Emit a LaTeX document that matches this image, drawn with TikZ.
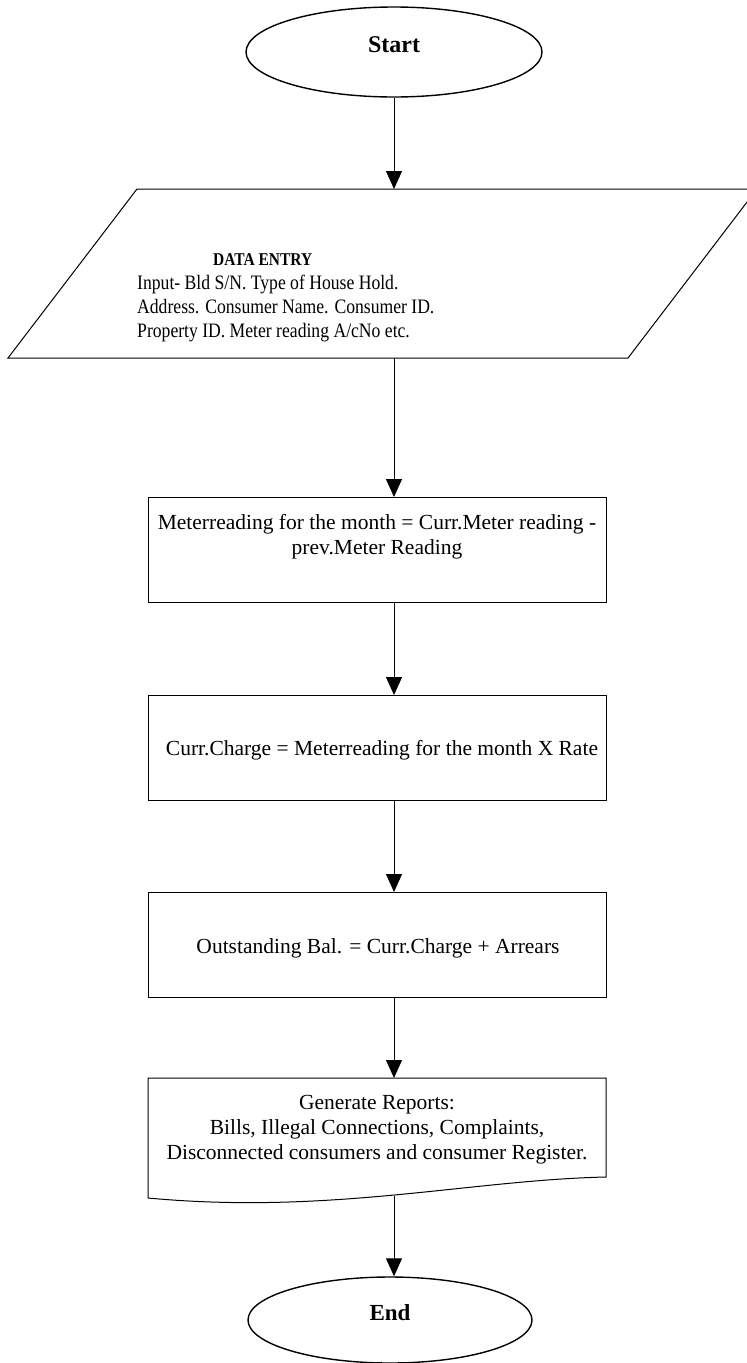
\documentclass[tikz,border=0pt]{standalone}
\usepackage{fontspec}
\setmainfont{Liberation Serif}
\newfontfamily\condfont[FakeStretch=0.86]{Liberation Serif}
\usetikzlibrary{shapes.geometric,arrows.meta}
\begin{document}
\begin{tikzpicture}[x=1pt,y=-1pt,
  term/.style={draw, ellipse, line width=1.4pt, minimum width=296pt, minimum height=90pt, inner sep=0pt, font=\fontsize{24}{28}\selectfont\bfseries},
  procbox/.style={draw, line width=1pt, minimum width=458pt, minimum height=105pt, inner sep=0pt},
  boxtext/.style={align=center, inner sep=0pt, font=\fontsize{21.5}{25}\selectfont},
  arr/.style={line width=1pt, -{Triangle[width=16pt,length=18pt]}},
  shp/.style={line width=1pt}
]
\useasboundingbox (0,0) rectangle (747,1363);
% Start
\node[term] (start) at (394,52) {\raisebox{0pt}[0pt][0pt]{Start}};
% Data entry parallelogram
\coordinate (pTL) at (137,189);
\coordinate (pTR) at (757,189);
\coordinate (pBR) at (628,358);
\coordinate (pBL) at (8,358);
\draw[shp] (pTL) -- (pTR) -- (pBR) -- (pBL) -- cycle;
\coordinate (ptop) at (394,189);
\coordinate (pbot) at (394,358);
\node[anchor=west, align=left, inner sep=0pt, font=\condfont\fontsize{20.5}{24}\selectfont] (datatext) at (137,298)
  {\hspace*{76pt}{\fontsize{18}{24}\selectfont\bfseries DATA ENTRY}\\
   Input- Bld S/N. Type of House Hold.\\
   Address. Consumer Name. Consumer ID.\\
   Property ID. Meter reading A/cNo etc.};
% Box 1
\node[procbox] (b1) at (377,550) {};
\node[boxtext] (b1t) at (377,537) {Meterreading for the month = Curr.Meter reading -\\ prev.Meter Reading};
% Box 2
\node[procbox] (b2) at (377,748) {};
\node[boxtext] (b2t) at (382,750) {Curr.Charge = Meterreading for the month X Rate};
% Box 3
\node[procbox] (b3) at (377,945) {};
\node[boxtext] (b3t) at (378,948) {Outstanding Bal. = Curr.Charge + Arrears};
% Document shape
\coordinate (dTL) at (148,1078);
\coordinate (dTR) at (606,1078);
\coordinate (dBR) at (606,1177);
\coordinate (dBL) at (148,1198);
\draw[shp] (dBL) -- (dTL) -- (dTR) -- (dBR) .. controls (470,1180) and (330,1215) .. (dBL);
\coordinate (dtop) at (394,1078);
\coordinate (dbot) at (394,1196);
\node[boxtext] (dt) at (377,1130) {Generate Reports:\\ Bills, Illegal Connections, Complaints,\\ Disconnected consumers and consumer Register.};
% End
\node[term, minimum width=284pt, minimum height=86pt, font=\fontsize{23}{27}\selectfont\bfseries] (endn) at (390,1320) {\raisebox{0pt}[0pt][0pt]{End}};
% Arrows
\draw[arr] (start.south) -- (ptop);
\draw[arr] (pbot) -- (b1.north -| pbot);
\draw[arr] (b1.south -| pbot) -- (b2.north -| pbot);
\draw[arr] (b2.south -| pbot) -- (b3.north -| pbot);
\draw[arr] (b3.south -| pbot) -- (dtop);
\draw[arr] (dbot) -- (dbot |- endn.north);
\end{tikzpicture}
\end{document}
